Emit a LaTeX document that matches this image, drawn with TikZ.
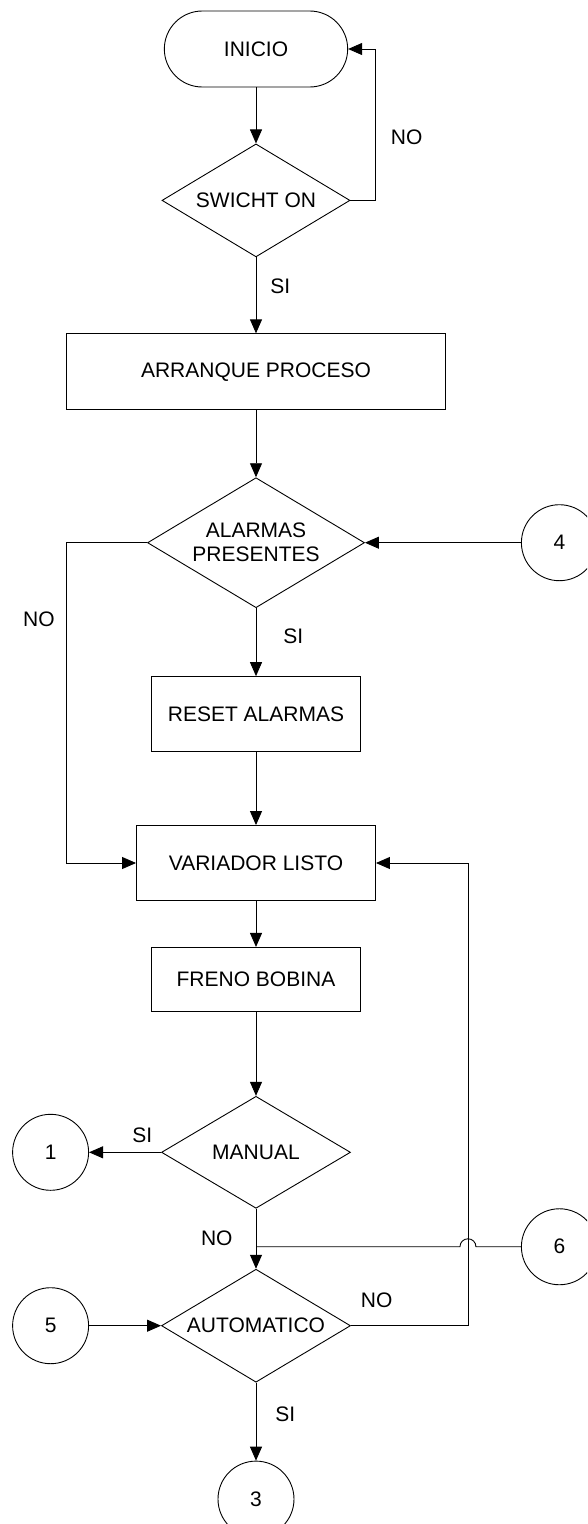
\documentclass[tikz,border=0pt]{standalone}
\usepackage{fontspec}
\setmainfont{Liberation Sans}
\usepackage{tikz}
\usetikzlibrary{arrows.meta, shapes, shapes.geometric, shapes.misc, positioning, calc}

\begin{document}
\begin{tikzpicture}[x=1pt, y=1pt, line width=0.9pt, >={Triangle[length=14pt, width=12pt]},
            font=\fontsize{21pt}{24pt}\selectfont,
            inicio/.style={rounded rectangle, draw, minimum width=190pt, minimum height=76pt},
            proceso/.style={rectangle, draw, inner sep=0pt, minimum height=75pt},
            decision/.style={diamond, draw, aspect=1.67, inner sep=0pt, align=center},
            conector/.style={circle, draw, minimum size=76pt, inner sep=0pt},
            lbl/.style={inner sep=0pt}]
            % \tikzstyle{every node}=[draw, thin]
            \useasboundingbox (0,0) rectangle (587,-1524);
            \clip (0,0) rectangle (587,-1524);

            \node[inicio] (ini) at (256,-49) {INICIO};
            \node[decision, minimum width=188pt, minimum height=113pt] (sw) [below = 56pt of ini] {SWICHT ON};
            \node[proceso, minimum width=379pt, minimum height=76pt] (arr) [below = 76pt of sw] {ARRANQUE PROCESO};
            \node[decision, minimum width=217pt, minimum height=130pt] (al) [below = 67pt of arr] {ALARMAS\\PRESENTES};
            \node[proceso, minimum width=209pt] (reset) [below = 68pt of al] {RESET ALARMAS};
            \node[proceso, minimum width=239pt] (var) [below = 73pt of reset] {VARIADOR LISTO};
            \node[proceso, minimum width=209pt, minimum height=64pt] (freno) [below = 46pt of var] {FRENO BOBINA};
            \node[decision, minimum width=189pt, minimum height=112pt] (man) [below = 84pt of freno] {MANUAL};
            \node[decision, minimum width=189pt, minimum height=113pt] (auto) [below = 60pt of man] {AUTOMATICO};

            \node[conector] (c4) [right = 156pt of al] {4};
            \node[conector] (c1) [left = 72pt of man] {1};
            \node[conector] (c5) [left = 72pt of auto] {5};
            \node[conector] (c3) [below = 78pt of auto] {3};
            \coordinate (junction) at ($(auto.north)+(0,22)$);
            \node[conector] (c6) at (c4 |- junction) {6};

            \draw[->] (ini.south) -- (sw.north);
            \draw[->] (sw.east) -- ++(25,0) |- node[lbl, right=15pt, pos=0.21] {NO} (ini.east);
            \draw[->] (sw.south) -- node[lbl, right=14pt, pos=0.38] {SI} (arr.north);
            \draw[->] (arr.south) -- (al.north);
            \draw[->] (c4.west) -- (al.east);
            \draw[->] (al.south) -- node[lbl, right=27pt, pos=0.41] {SI} (reset.north);
            \draw[->] (al.west) -- ++(-81,0) |- node[lbl, left=11pt, pos=0.12] {NO} (var.west);
            \draw[->] (reset.south) -- (var.north);
            \draw[->] (var.south) -- (freno.north);
            \draw[->] (freno.south) -- (man.north);
            \draw[->] (man.west) -- node[lbl, above=9pt, pos=0.26] {SI} (c1.east);
            \draw[->] (man.south) -- node[lbl, left=23pt] {NO} (auto.north);
            \draw (c6.west) -- ++(-45,0) arc[start angle=0, end angle=180, radius=8pt] -- (junction);
            \draw[->] (c5.east) -- (auto.west);
            \draw[->] (auto.east) -- node[lbl, above=18pt, pos=0.22] {NO} ++(117,0) |- (var.east);
            \draw[->] (auto.south) -- node[lbl, right=19pt, pos=0.4] {SI} (c3.north);
\end{tikzpicture}
\end{document}
